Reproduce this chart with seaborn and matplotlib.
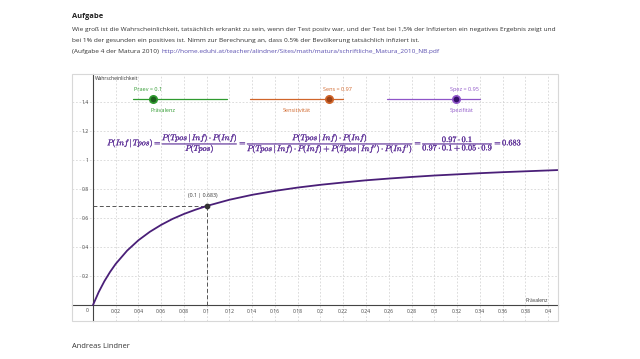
import numpy as np
import pandas as pd
import seaborn as sns
import matplotlib.pyplot as plt
import matplotlib.patheffects as pe
from matplotlib.patches import Rectangle

# slider values
praev = 0.1
sens = 0.97
spez = 0.95
result = 0.683

prev_x = [0, 0.005, 0.01, 0.015, 0.02, 0.03, 0.04, 0.05, 0.06, 0.07, 0.08, 0.09,
          0.10, 0.12, 0.14, 0.16, 0.18, 0.20, 0.22, 0.24, 0.26, 0.28, 0.30,
          0.32, 0.34, 0.36, 0.38, 0.40, 0.41]
prob_y = [0, 0.089, 0.164, 0.228, 0.284, 0.375, 0.447, 0.505, 0.553, 0.594, 0.628, 0.657,
          0.683, 0.726, 0.760, 0.787, 0.810, 0.829, 0.845, 0.860, 0.872, 0.883, 0.893,
          0.901, 0.909, 0.916, 0.922, 0.928, 0.931]

x_ticks = [0.02, 0.04, 0.06, 0.08, 0.1, 0.12, 0.14, 0.16, 0.18, 0.2, 0.22, 0.24,
           0.26, 0.28, 0.3, 0.32, 0.34, 0.36, 0.38, 0.4]
x_labels = ['0.02', '0.04', '0.06', '0.08', '0.1', '0.12', '0.14', '0.16', '0.18', '0.2',
            '0.22', '0.24', '0.26', '0.28', '0.3', '0.32', '0.34', '0.36', '0.38', '0.4']
y_ticks = [0.2, 0.4, 0.6, 0.8, 1.0, 1.2, 1.4]
y_labels = ['0.2', '0.4', '0.6', '0.8', '1', '1.2', '1.4']

df = pd.DataFrame({'Prävalenz': prev_x, 'Wahrscheinlichkeit': prob_y})

sns.set_theme(style='white')
plt.rcParams['font.family'] = ['Open Sans', 'DejaVu Sans']
plt.rcParams['mathtext.fontset'] = 'cm'

fig = plt.figure(figsize=(6.4, 3.59), dpi=100)
fig.patch.set_facecolor('white')

# page text
txt = '#333333'
fs = 4.67
fig.text(72/640, 1 - 17/359, 'Aufgabe', fontsize=5.4, fontweight='bold', color='#222222', va='center')
fig.text(72/640, 1 - 29.5/359,
         'Wie groß ist die Wahrscheinlichkeit, tatsächlich erkrankt zu sein, wenn der Test positv war, '
         'und der Test bei 1,5% der Infizierten ein negatives Ergebnis zeigt und',
         fontsize=fs, color=txt, va='center')
fig.text(72/640, 1 - 40.5/359,
         'bei 1% der gesunden ein positives ist. Nimm zur Berechnung an, dass 0.5% der Bevölkerung '
         'tatsächlich infiziert ist.', fontsize=fs, color=txt, va='center')
t1 = fig.text(72/640, 1 - 51.5/359, '(Aufgabe 4 der Matura 2010)', fontsize=fs, color=txt, va='center')
fig.add_artist(plt.Annotation(
    'http://home.eduhi.at/teacher/alindner/Sites/math/matura/schriftliche_Matura_2010_NB.pdf',
    xy=(1, 0.5), xycoords=t1, xytext=(2, 0), textcoords='offset points',
    fontsize=fs, color='#5a4fb0', va='center'))
fig.text(72/640, 1 - 347/359, 'Andreas Lindner', fontsize=5.4, color=txt, va='center')

# applet area
ax = fig.add_axes([72/640, (359 - 321)/359, 486/640, 247/359])
ax.set_xlim(-0.01846, 0.40879)
ax.set_ylim(-0.1103, 1.5931)
ax.add_patch(Rectangle((0, 0), 1, 1, transform=ax.transAxes, fill=False,
                       edgecolor='#d8d8d8', lw=0.8, clip_on=False, zorder=5))

ax.spines['top'].set_visible(False)
ax.spines['right'].set_visible(False)
ax.spines['left'].set_position(('data', 0))
ax.spines['bottom'].set_position(('data', 0))
for s in ('left', 'bottom'):
    ax.spines[s].set_color('#444444')
    ax.spines[s].set_linewidth(0.8)

ax.set_xticks(x_ticks)
ax.set_xticklabels(x_labels)
ax.set_yticks(y_ticks)
ax.set_yticklabels(y_labels)
ax.tick_params(axis='both', labelsize=3.6, colors='#444444', length=2, width=0.5,
               direction='inout', pad=2)
ax.grid(True, color='#cfcfcf', lw=0.5, ls=(0, (2.5, 2.5)))
ax.text(-0.004, -0.035, '0', fontsize=3.6, color='#444444', ha='right', va='center')
ax.text(0.0015, 1.565, 'Wahrscheinlichkeit', fontsize=3.6, color='#333333', ha='left', va='center')
ax.text(0.4, 0.012, 'Prävalenz', fontsize=3.6, color='#333333', ha='right', va='bottom')

# curve
sns.lineplot(data=df, x='Prävalenz', y='Wahrscheinlichkeit', ax=ax,
             color='#4a1f78', lw=1.3, zorder=4)
ax.set_xlabel('')
ax.set_ylabel('')

# point and helper lines
ax.plot([0, praev], [result, result], color='#555555', lw=0.7, ls=(0, (4, 2.5)), zorder=3)
ax.plot([praev, praev], [0, result], color='#555555', lw=0.7, ls=(0, (4, 2.5)), zorder=3)
ax.scatter([praev], [result], s=10, color='#333333', zorder=6)
ax.text(0.0967, 0.752, f'({praev:g} | {result})', fontsize=3.8, color='#333333',
        ha='center', va='center')

# sliders
sliders = [
    ('Praev', praev, 'Prävalenz', '#2f9a2f', '#1d5e1d', (0.0352, 0.1178), 0.0527, 0.0484, 0.0615),
    ('Sens', sens, 'Sensitivität', '#d0652a', '#9c4216', (0.1380, 0.2198), 0.2075, 0.2145, 0.1793),
    ('Spez', spez, 'Spezifität', '#8f55c8', '#35106a', (0.2585, 0.3402), 0.3191, 0.3262, 0.3244),
]
for name, val, title, lc, pc, (x0, x1), px, lx, tx in sliders:
    ax.plot([x0, x1], [1.421, 1.421], color=lc, lw=0.9, zorder=4)
    ax.scatter([px], [1.421], s=28, color=pc, edgecolor=lc, linewidth=1.2, zorder=6)
    ax.text(lx, 1.483, f'{name} = {val:g}', fontsize=4.0, color=lc, ha='center', va='center')
    ax.text(tx, 1.338, title, fontsize=4.0, color=lc, ha='center', va='center')

# formula
formula = (r'$P(Inf\,|\,Tpos) = \dfrac{P(Tpos\,|\,Inf)\cdot P(Inf)}{P(Tpos)} = '
           r'\dfrac{P(Tpos\,|\,Inf)\cdot P(Inf)}{P(Tpos\,|\,Inf)\cdot P(Inf) + '
           r'P(Tpos\,|\,Inf^{\prime})\cdot P(Inf^{\prime})} = '
           rf'\dfrac{{{sens:g}\cdot {praev:g}}}{{{sens:g}\cdot {praev:g} + '
           rf'{1 - spez:.2f}\cdot {1 - praev:g}}} = {result}$')
ax.text(0.1947, 1.117, formula, fontsize=5.9, color='#5b2d96', ha='center', va='center', zorder=6,
        path_effects=[pe.withStroke(linewidth=0.15, foreground='#5b2d96')])

fig.savefig('out.png', dpi=100, facecolor='white')
